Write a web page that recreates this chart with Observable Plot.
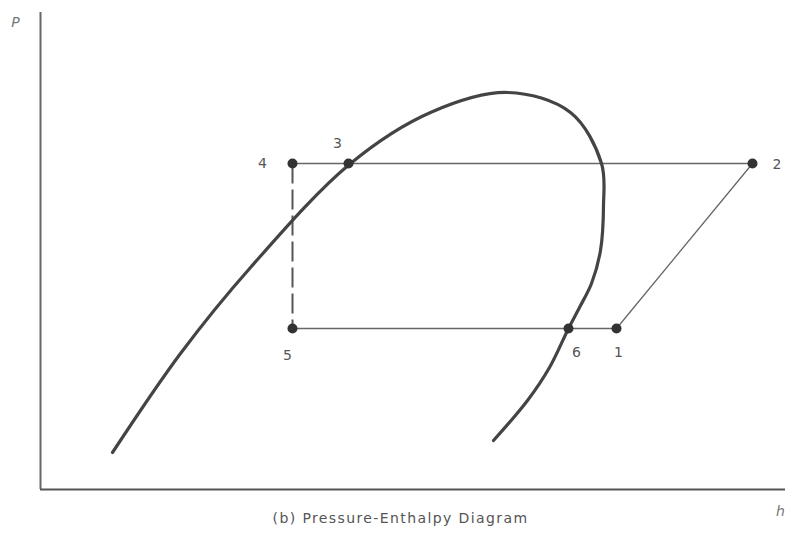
<!DOCTYPE html>
<html>
<head>
<meta charset="utf-8">
<script src="https://cdn.jsdelivr.net/npm/d3@7"></script>
<script src="https://cdn.jsdelivr.net/npm/@observablehq/plot@0.6"></script>
<style>
  html, body { margin: 0; padding: 0; background: #fff; }
  svg { display: block; }
</style>
</head>
<body>
<div id="chart"></div>
<script>
// Saturation dome (enthalpy h, pressure P), arbitrary units
const domeH = [72, 140, 210, 310, 390, 467, 530, 561, 563, 560, 551, 539, 528, 509, 487, 453];
const domeP = [37, 136, 222, 326, 377, 397, 377, 326, 284, 239, 206, 182, 161, 122, 89, 49];

// Refrigeration cycle state points
const stateLabels = ["1", "2", "3", "4", "5", "6"];
const stateH = [576, 712, 308, 252, 252, 528];
const stateP = [161, 326, 326, 326, 161, 161];

// Axis labels and caption
const axisLabelY = "P";
const axisLabelX = "h";
const captionText = "(b) Pressure-Enthalpy Diagram";

const dome = domeH.map((h, i) => ({h, P: domeP[i]}));
const states = stateLabels.map((label, i) => ({label, h: stateH[i], P: stateP[i]}));
const S = Object.fromEntries(states.map(d => [d.label, d]));

const solidSegs = [
  {a: S["4"], b: S["2"]},
  {a: S["5"], b: S["1"]},
  {a: S["1"], b: S["2"]}
];
const dashedSeg = [{a: S["4"], b: S["5"]}];

// label offsets (style only)
const labelPos = {
  "1": {dx: 2, dy: 24, anchor: "middle"},
  "2": {dx: 20, dy: 1, anchor: "start"},
  "3": {dx: -11, dy: -20, anchor: "middle"},
  "4": {dx: -30, dy: 0, anchor: "middle"},
  "5": {dx: -5, dy: 27, anchor: "middle"},
  "6": {dx: 8, dy: 24, anchor: "middle"}
};

const font = "'DejaVu Sans', Verdana, sans-serif";

const chart = Plot.plot({
  width: 785,
  height: 550,
  marginLeft: 40,
  marginRight: 0,
  marginTop: 12,
  marginBottom: 61,
  style: {fontFamily: font, background: "#fff"},
  x: {domain: [0, 745], axis: null},
  y: {domain: [0, 477], axis: null},
  marks: [
    // axes
    Plot.ruleX([0], {y1: 0, y2: 477, stroke: "#666", strokeWidth: 2}),
    Plot.ruleY([0], {x1: 0, x2: 745, stroke: "#555", strokeWidth: 2}),
    // cycle lines
    Plot.link(solidSegs, {x1: d => d.a.h, y1: d => d.a.P, x2: d => d.b.h, y2: d => d.b.P, stroke: "#666", strokeWidth: 1.3}),
    Plot.link(dashedSeg, {x1: d => d.a.h, y1: d => d.a.P, x2: d => d.b.h, y2: d => d.b.P, stroke: "#555", strokeWidth: 2, strokeDasharray: "20,6"}),
    // dome
    Plot.line(dome, {x: "h", y: "P", curve: "catmull-rom", stroke: "#444", strokeWidth: 3.2}),
    // state points
    Plot.dot(states, {x: "h", y: "P", r: 5, fill: "#333", stroke: "none"}),
    // state labels
    ...stateLabels.map(l => Plot.text([S[l]], {
      x: "h", y: "P", text: "label",
      dx: labelPos[l].dx, dy: labelPos[l].dy, textAnchor: labelPos[l].anchor,
      fontSize: 14, fill: "#555"
    })),
    // axis labels
    Plot.text([axisLabelY], {x: -25, y: 467, text: d => d, fontSize: 14, fill: "#777", fontStyle: "italic"}),
    Plot.text([axisLabelX], {x: 740, y: -22, text: d => d, fontSize: 14, fill: "#777", fontStyle: "italic"}),
    // caption
    Plot.text([captionText], {x: 360, y: -29, text: d => d, fontSize: 14, fill: "#555"})
  ]
});

// widen caption letter spacing to match the reference typeface
d3.select(chart).selectAll("text").filter(function () { return this.textContent === captionText; })
  .attr("letter-spacing", "1.4px");

document.getElementById("chart").appendChild(chart);
</script>
</body>
</html>
